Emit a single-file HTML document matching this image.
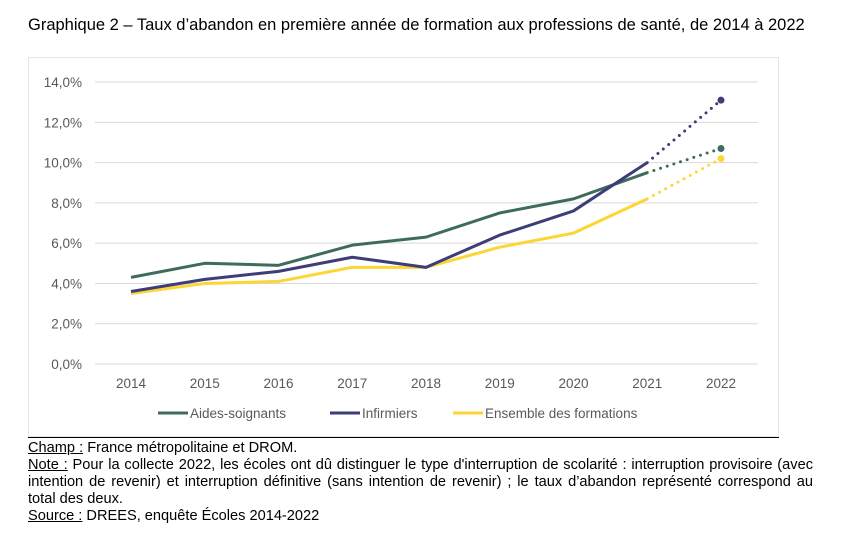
<!DOCTYPE html>
<html><head><meta charset="utf-8"><style>
body{margin:0;width:846px;height:541px;background:#fff;font-family:"Liberation Sans",Arial,sans-serif;position:relative;overflow:hidden}
.t{position:absolute;left:28px;top:16px;font-size:16.5px;color:#000;white-space:nowrap}
.notes{position:absolute;left:28px;top:440px;width:785px;font-size:14.6px;line-height:17px;color:#000;text-align:justify}
.j{text-align:justify;text-align-last:justify}
u{text-decoration:underline}
</style></head><body>
<div class="t">Graphique 2 – Taux d’abandon en première année de formation aux professions de santé, de 2014 à 2022</div>
<svg width="846" height="541" style="position:absolute;left:0;top:0">
<rect x="28.5" y="57.5" width="750" height="379" fill="none" stroke="#e6e6e6"/>
<line x1="28" y1="437.5" x2="779" y2="437.5" stroke="#000"/>
<g id="grid"></g><g id="xl"></g><g id="series"></g>
<g font-size="13.5" fill="#595959">
<line x1="158" y1="413" x2="188" y2="413" stroke="#3f6b5c" stroke-width="3"/>
<text x="190" y="418">Aides-soignants</text>
<line x1="330" y1="413" x2="360" y2="413" stroke="#3d3d78" stroke-width="3"/>
<text x="362" y="418">Infirmiers</text>
<line x1="453" y1="413" x2="483" y2="413" stroke="#fdd535" stroke-width="3"/>
<text x="485" y="418">Ensemble des formations</text>
</g>
</svg>
<div class="notes">
<div><u>Champ :</u> France métropolitaine et DROM.</div>
<div class="j"><u>Note :</u> Pour la collecte 2022, les écoles ont dû distinguer le type d'interruption de scolarité : interruption provisoire (avec intention de revenir) et interruption définitive (sans intention de revenir) ; le taux d’abandon représenté correspond au</div>
<div>total des deux.</div>
<div><u>Source :</u> DREES, enquête Écoles 2014-2022</div>
</div>
<script>
const years=["2014","2015","2016","2017","2018","2019","2020","2021","2022"];
const aides=[4.3,5.0,4.9,5.9,6.3,7.5,8.2,9.5,10.7];
const infirmiers=[3.6,4.2,4.6,5.3,4.8,6.4,7.6,10.0,13.1];
const ensemble=[3.5,4.0,4.1,4.8,4.8,5.8,6.5,8.2,10.2];
const yTicks=[0,2,4,6,8,10,12,14];
const NS="http://www.w3.org/2000/svg";
const X=i=>131+i*73.75, Y=v=>364-v*20.14;
function mk(t,a,p){const e=document.createElementNS(NS,t);for(const k in a)e.setAttribute(k,a[k]);p.appendChild(e);return e;}
const g=document.getElementById('grid');
yTicks.forEach(v=>{
 const l=mk('line',{x1:95,x2:758,y1:Y(v),y2:Y(v),stroke:'#d9d9d9'},g);
 
 
 const t=mk('text',{x:82,y:Y(v)+5,'text-anchor':'end','font-size':13.5,fill:'#595959'},g);
 t.textContent=v.toFixed(1).replace('.',',')+'%';
 
 
});
const xl=document.getElementById('xl');
years.forEach((y,i)=>{
 const t=mk('text',{x:X(i),y:388,'text-anchor':'middle','font-size':13.5,fill:'#595959'},xl);
 t.textContent=y;
 
 
});
const sg=document.getElementById('series');
[[aides,'#3f6b5c','aides'],[ensemble,'#fdd535','ensemble'],[infirmiers,'#3d3d78','infirmiers']].forEach(([d,c,n])=>{
 const n1=d.length-1;
 const pts=d.slice(0,n1).map((v,i)=>X(i)+','+Y(v)).join(' ');
 const p=mk('polyline',{points:pts,fill:'none',stroke:c,'stroke-width':3,'stroke-linejoin':'round'},sg);
 
 
 const dl=mk('line',{x1:X(n1-1),y1:Y(d[n1-1]),x2:X(n1),y2:Y(d[n1]),stroke:c,'stroke-width':3,'stroke-dasharray':'0 7','stroke-linecap':'round'},sg);
 
 
 const m=mk('circle',{cx:X(n1),cy:Y(d[n1]),r:3.5,fill:c},sg);
 
 
});
</script>
</body></html>
